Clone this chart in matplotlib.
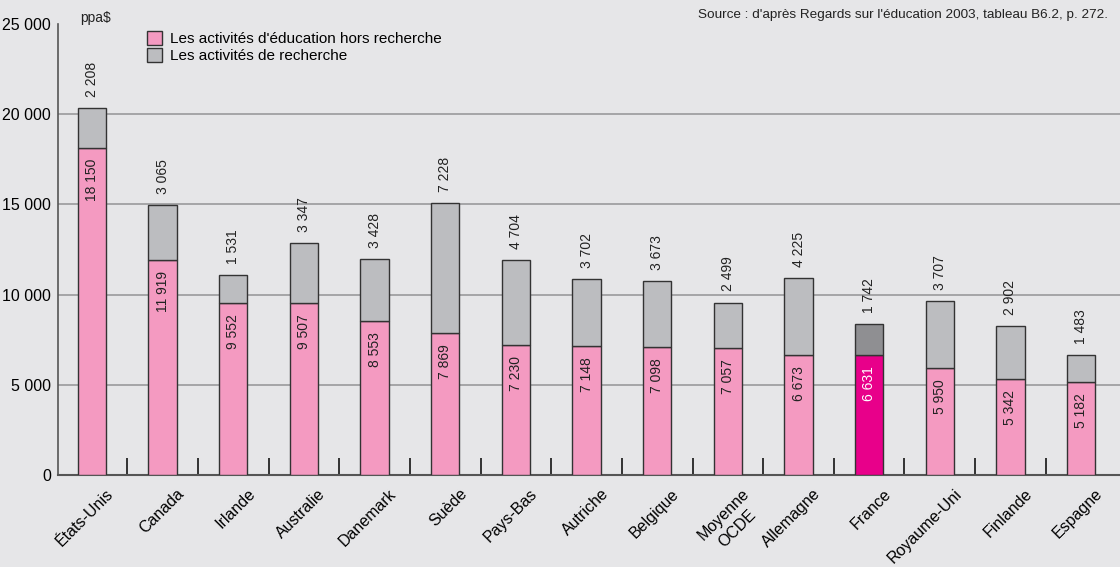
import matplotlib
matplotlib.use('Agg')
import numpy as np
import matplotlib.pyplot as plt
import matplotlib.transforms as mtransforms
from matplotlib.patches import Patch

plt.rcParams['font.family'] = ['Liberation Sans Narrow', 'Liberation Sans', 'DejaVu Sans']

pays = ['États-Unis', 'Canada', 'Irlande', 'Australie', 'Danemark', 'Suède', 'Pays-Bas',
        'Autriche', 'Belgique', 'Moyenne\nOCDE', 'Allemagne', 'France', 'Royaume-Uni',
        'Finlande', 'Espagne']
education = [18150, 11919, 9552, 9507, 8553, 7869, 7230, 7148, 7098, 7057, 6673, 6631, 5950, 5342, 5182]
recherche = [2208, 3065, 1531, 3347, 3428, 7228, 4704, 3702, 3673, 2499, 4225, 1742, 3707, 2902, 1483]
yticks = [0, 5000, 10000, 15000, 20000, 25000]

bg = '#e6e6e8'
rose = '#f49ac1'
gris = '#bcbdc0'

fig = plt.figure(figsize=(11.2, 5.67), dpi=100, facecolor=bg)
ax = fig.add_axes([58/1120, 1-475/567, 1-58/1120, (475-24)/567])
ax.set_facecolor(bg)

x = np.arange(len(pays))
c_edu = [rose] * len(pays)
c_rec = [gris] * len(pays)
i_fr = pays.index('France')
c_edu[i_fr] = '#e8008a'
c_rec[i_fr] = '#8f8f92'

ax.bar(x, education, width=0.4, color=c_edu, edgecolor='#333333', linewidth=1.0, zorder=3)
ax.bar(x, recherche, width=0.4, bottom=education, color=c_rec, edgecolor='#333333', linewidth=1.0, zorder=3)

def fmt(v):
    return f'{v:,}'.replace(',', ' ')

for i in range(len(pays)):
    col = 'white' if i == i_fr else '#222222'
    ax.annotate(fmt(education[i]), (x[i], education[i]), xytext=(0, -8), textcoords='offset points',
                rotation=90, ha='center', va='top', fontsize=10, color=col, zorder=4)
    ax.annotate(fmt(recherche[i]), (x[i], education[i] + recherche[i]), xytext=(0, 8), textcoords='offset points',
                rotation=90, ha='center', va='bottom', fontsize=10, color='#222222', zorder=4)

ax.set_xlim(-0.48, 14.55)
ax.set_ylim(0, 25000)
ax.set_yticks(yticks)
ax.set_yticklabels([fmt(v) for v in yticks], fontsize=11.5)
ax.tick_params(axis='y', length=0, pad=5)
for v in yticks[1:-1]:
    ax.axhline(v, color='#9a9a9c', linewidth=1.2, zorder=1)

ax.set_xticks(x)
ax.set_xticklabels(pays, rotation=45, ha='right', rotation_mode='anchor', fontsize=11.5,
                   multialignment='center')
ax.tick_params(axis='x', length=0, pad=8)
offset = mtransforms.ScaledTranslation(0.14, 0, fig.dpi_scale_trans)
for lab in ax.get_xticklabels():
    lab.set_transform(lab.get_transform() + offset)
    lab.set_linespacing(1.35)
ax.set_xticks(x[:-1] + 0.5, minor=True)
ax.tick_params(axis='x', which='minor', direction='in', length=12, width=1.4, color='#333333')

for s in ['top', 'right']:
    ax.spines[s].set_visible(False)
ax.spines['left'].set_color('#555555')
ax.spines['bottom'].set_color('#555555')
ax.spines['left'].set_linewidth(1.2)
ax.spines['bottom'].set_linewidth(1.5)

fig.text(80/1120, 1-18/567, 'ppa$', fontsize=10, va='center', color='#222222')
fig.text(1108/1120, 1-15/567, "Source : d'après Regards sur l'éducation 2003, tableau B6.2, p. 272.",
         fontsize=9.7, ha='right', va='center', color='#222222')

handles = [Patch(facecolor=rose, edgecolor='#333333', label="Les activités d'éducation hors recherche"),
           Patch(facecolor=gris, edgecolor='#333333', label='Les activités de recherche')]
fig.legend(handles=handles, loc='upper left', bbox_to_anchor=(147/1120, 1-31/567), frameon=False,
           fontsize=11, handlelength=1.0, handleheight=1.0, handletextpad=0.5, labelspacing=0.15,
           borderpad=0, borderaxespad=0)

fig.savefig('out.png', dpi=100, facecolor=bg)
